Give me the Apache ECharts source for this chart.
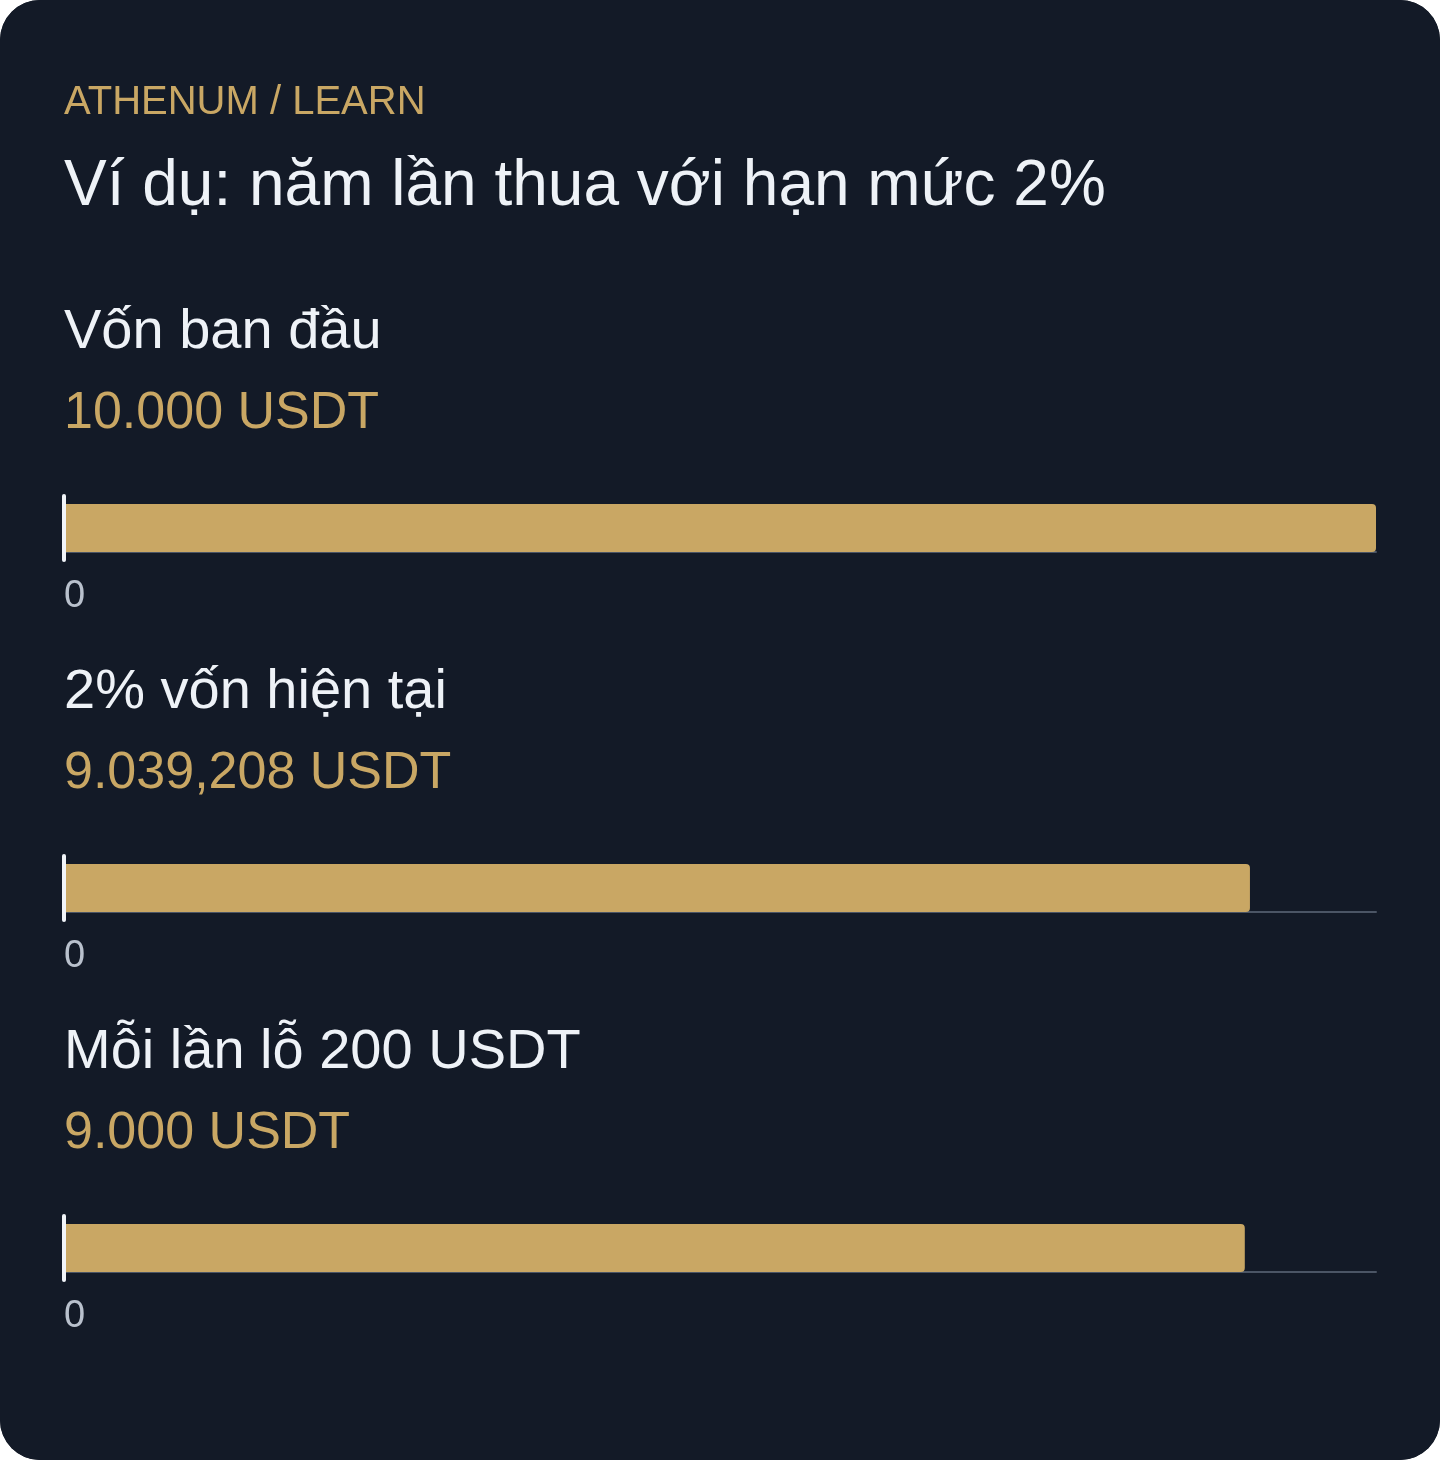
<!DOCTYPE html>
<html>
<head>
<meta charset="utf-8">
<script src="https://cdn.jsdelivr.net/npm/echarts@6/dist/echarts.min.js"></script>
<style>
  html, body { margin: 0; padding: 0; background: #ffffff; }
  #chart { width: 1440px; height: 1460px; border-radius: 40px; overflow: hidden; background: #131a27; }
</style>
</head>
<body>
<div id="chart"></div>
<script>
const eyebrow = 'ATHENUM / LEARN';
const mainTitle = 'Ví dụ: năm lần thua với hạn mức 2%';
const panelTitles = ['Vốn ban đầu', '2% vốn hiện tại', 'Mỗi lần lỗ 200 USDT'];
const valueLabels = ['10.000 USDT', '9.039,208 USDT', '9.000 USDT'];
const values = [10000, 9039.208, 9000];
const axisMax = 10000;
const tickLabels = ['0'];

const FONT = '"Liberation Sans", Arial, sans-serif';
const GOLD = '#c9a764';
const TEXT = '#eef2f7';
const BG = '#131a27';
const PAD = [5, 5, 5, 0];

const panelStep = 360;
const titles = [
  { text: eyebrow, left: 64, top: 78, padding: PAD, textStyle: { color: GOLD, fontSize: 40, fontWeight: 'normal', fontFamily: FONT, lineHeight: 40 } },
  { text: mainTitle, left: 64, top: 150, padding: PAD, textStyle: { color: TEXT, fontSize: 64, fontWeight: 'normal', fontFamily: FONT, lineHeight: 64 } }
];
const grids = [], xAxes = [], yAxes = [], series = [];
panelTitles.forEach((t, i) => {
  const off = i * panelStep;
  titles.push({ text: t, left: 64, top: 300 + off, padding: PAD, textStyle: { color: TEXT, fontSize: 56, fontWeight: 'normal', fontFamily: FONT, lineHeight: 56 } });
  titles.push({ text: valueLabels[i], left: 64, top: 383 + off, padding: PAD, textStyle: { color: GOLD, fontSize: 52, fontWeight: 'normal', fontFamily: FONT, lineHeight: 52 } });
  grids.push({ left: 64, right: 64, top: 496 + off, height: 64, containLabel: false });
  xAxes.push({
    gridIndex: i, type: 'value', min: 0, max: axisMax, interval: axisMax, offset: -8,
    axisLine: { show: true, lineStyle: { color: '#4b5565', width: 2 } },
    axisTick: { show: false },
    splitLine: { show: false },
    axisLabel: {
      show: true, showMaxLabel: false, showMinLabel: true, margin: 26, align: 'left',
      color: '#b9c1cd', fontSize: 38, fontFamily: FONT,
      formatter: (v) => (v === 0 ? tickLabels[0] : '')
    }
  });
  yAxes.push({
    gridIndex: i, type: 'category', data: [t], z: 10,
    axisLine: { show: true, lineStyle: { color: '#f1f4f8', width: 4 } },
    axisTick: { show: false }, axisLabel: { show: false }, splitLine: { show: false }
  });
  series.push({
    type: 'bar', xAxisIndex: i, yAxisIndex: i, data: [values[i]], barWidth: 48,
    itemStyle: { color: GOLD, borderRadius: [0, 4, 4, 0] }, z: 3, silent: true
  });
});

const chart = echarts.init(document.getElementById('chart'), null, { renderer: 'canvas' });
chart.setOption({
  backgroundColor: BG,
  animation: false,
  title: titles,
  grid: grids,
  xAxis: xAxes,
  yAxis: yAxes,
  series: series
});
</script>
</body>
</html>
